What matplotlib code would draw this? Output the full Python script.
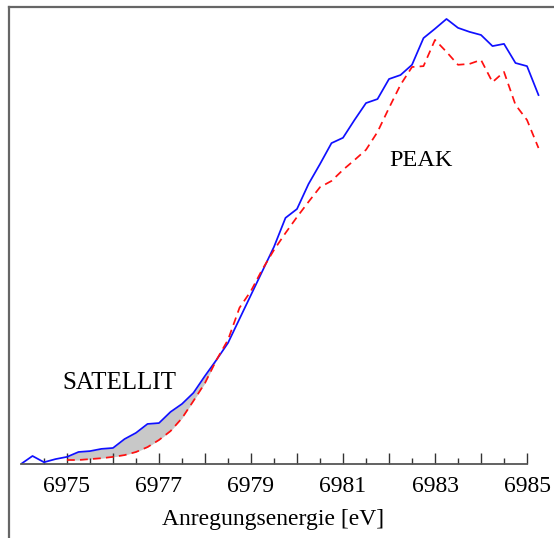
import matplotlib.pyplot as plt
import numpy as np
from matplotlib.lines import Line2D

# energies (eV), 0.25 eV step
energy = 6974.0 + 0.25 * np.arange(46)

# blue (solid) curve
blue = [0.0, 1.8, 0.4, 1.1, 1.6, 2.7, 2.9, 3.4, 3.6, 5.6,
        7.0, 9.0, 9.2, 11.7, 13.5, 16.0, 19.8, 23.4, 27.2, 32.6,
        38.0, 43.4, 48.8, 55.3, 57.3, 62.9, 67.4, 72.1, 73.3, 77.3,
        81.1, 82.0, 86.5, 87.4, 89.7, 95.7, 97.8, 100.0, 98.0, 97.1,
        96.4, 93.9, 94.4, 90.1, 89.4, 82.9]

# red (dashed) curve, starts at 6975 eV
red_energy = energy[4:]
red = [0.9, 0.9, 1.1, 1.3, 1.6, 2.0, 2.7, 3.8, 5.4, 7.4,
       10.3, 14.2, 18.2, 23.4, 27.9, 35.1, 38.9, 43.8, 48.1, 51.9,
       55.5, 58.9, 62.2, 63.6, 66.1, 68.3, 70.6, 74.6, 80.0, 85.2,
       89.2, 89.4, 95.3, 92.6, 89.7, 89.9, 90.8, 85.8, 88.1, 80.7,
       77.3, 71.0]

tick_vals = [6975, 6977, 6979, 6981, 6983, 6985]

plt.rcParams['font.family'] = ['Liberation Serif', 'DejaVu Serif']

fig = plt.figure(figsize=(5.54, 5.38), dpi=100)
ax = fig.add_axes([21 / 554, 74 / 538, 524.4 / 554, 449.5 / 538])

# shaded satellite region between the curves
blue_sub = np.array(blue[4:18])
red_sub = np.array(red[:14])
ax.fill_between(red_energy[:14], red_sub, blue_sub, where=blue_sub >= red_sub,
                interpolate=True, color='#c8c8c8', lw=0)

ax.plot(energy, blue, color='#1010ff', lw=1.25)
ax.plot(red_energy, red, color='#ff1010', lw=1.25, dashes=(4.5, 3))

ax.set_xlim(6974, 6985.4)
ax.set_ylim(0, 101)

for s in ['left', 'top', 'right']:
    ax.spines[s].set_visible(False)
ax.spines['bottom'].set_bounds(6974, 6985)
ax.spines['bottom'].set_color('#555555')
ax.spines['bottom'].set_linewidth(1.3)

major = np.arange(6975, 6986, 1)
ax.set_xticks(major)
ax.set_xticklabels([str(v) if v in tick_vals else '' for v in major])
ax.set_xticks(np.arange(6974.5, 6985, 1), minor=True)
ax.tick_params(axis='x', which='major', direction='in', length=8, width=1,
               color='#333333', labelsize=17, pad=9)
ax.tick_params(axis='x', which='minor', direction='in', length=4.5, width=1,
               color='#333333')
ax.set_yticks([])

ax.text(6974.91, 18.2, 'SATELLIT', fontsize=18, va='center', ha='left')
ax.text(6982.0, 68.3, 'PEAK', fontsize=17.5, va='center', ha='left')

fig.text(273 / 554, 1 - 520 / 538, 'Anregungsenergie [eV]', fontsize=17,
         ha='center', va='center')

# outer frame (left and top edges visible)
fig.add_artist(Line2D([8.5 / 554, 8.5 / 554], [0, 1 - 7 / 538],
                      transform=fig.transFigure, color='#666666', lw=1.6))
fig.add_artist(Line2D([8.5 / 554, 1], [1 - 7 / 538, 1 - 7 / 538],
                      transform=fig.transFigure, color='#666666', lw=1.6))

fig.savefig('out.png', dpi=100)
